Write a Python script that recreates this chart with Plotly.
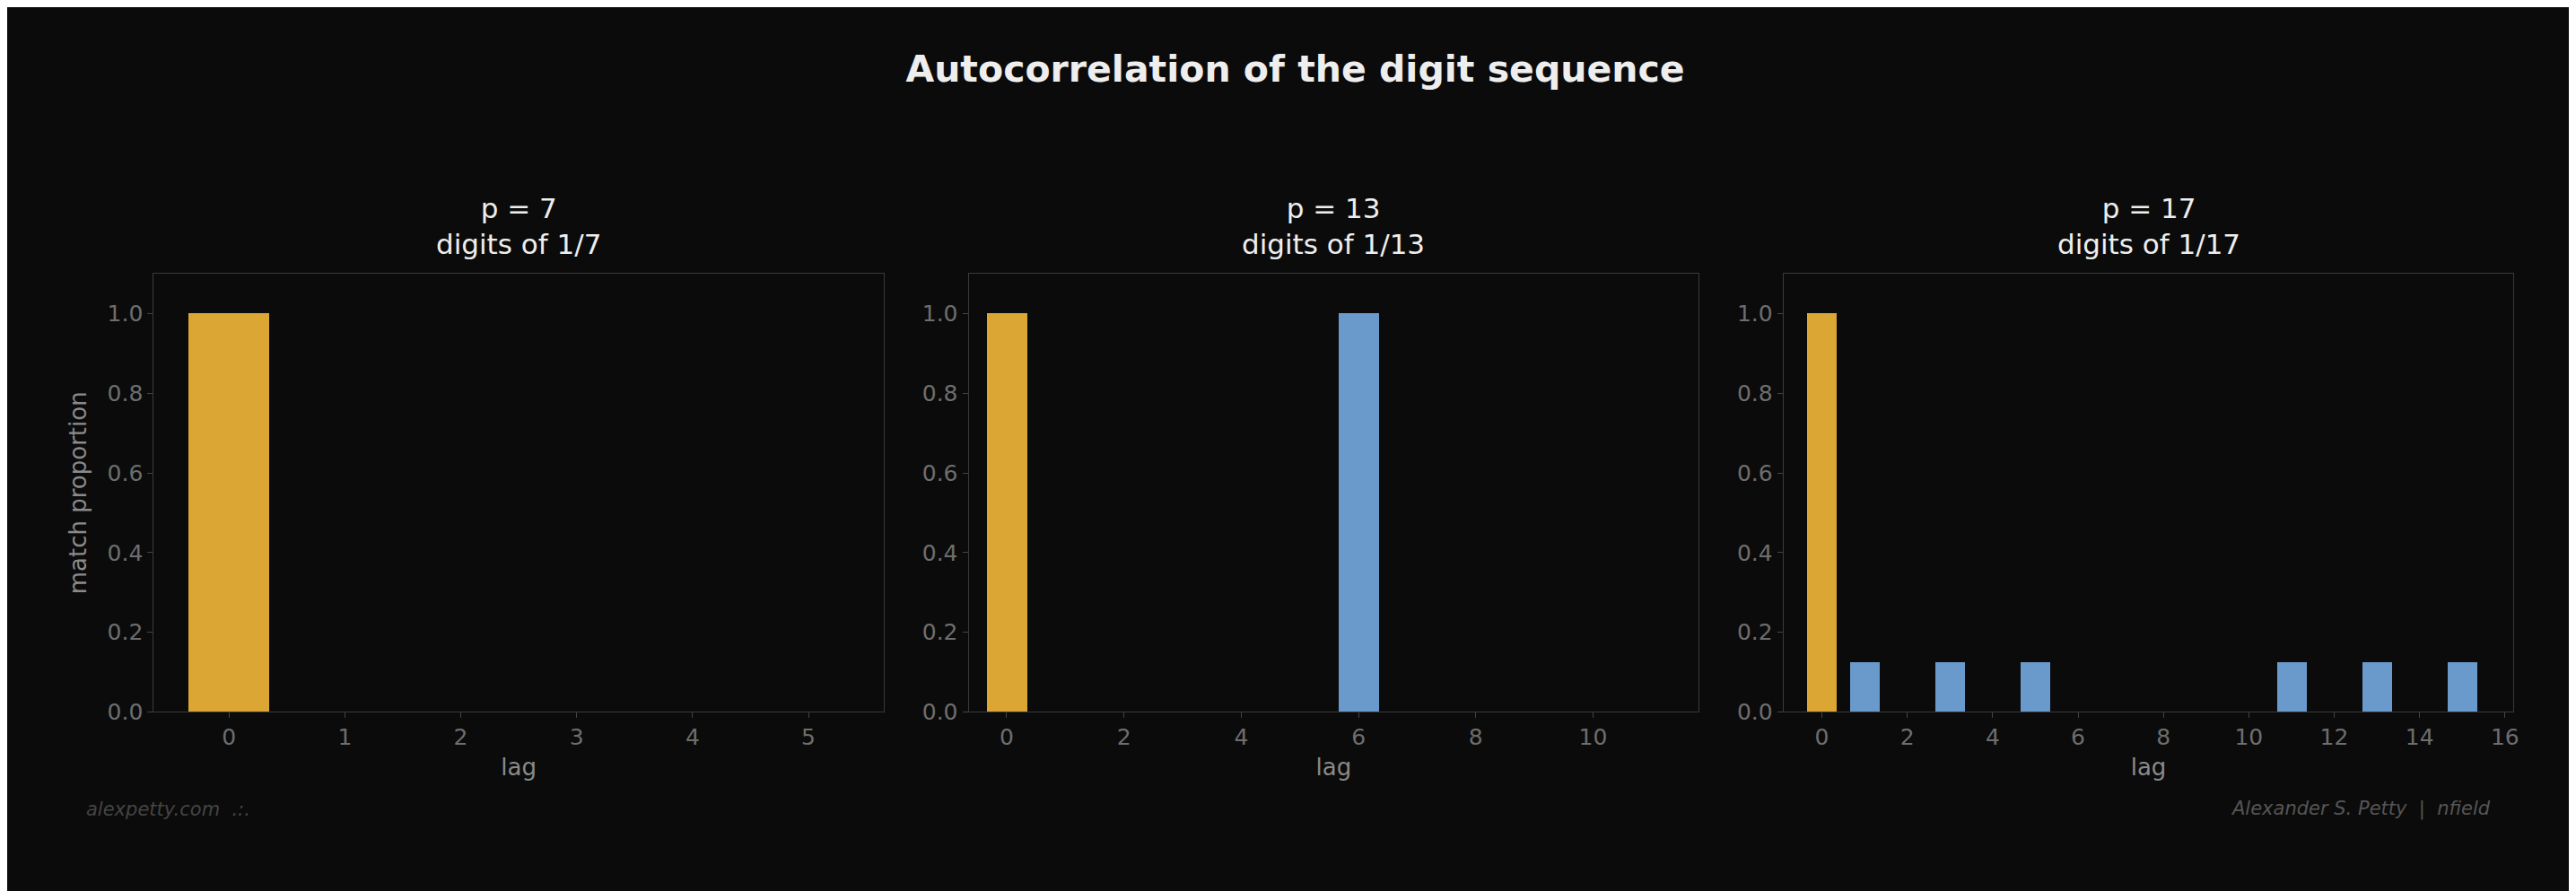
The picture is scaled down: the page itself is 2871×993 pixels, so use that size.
import plotly.graph_objects as go
from plotly.subplots import make_subplots

primes = [7, 13, 17]
lags_7 = [0, 1, 2, 3, 4, 5]
vals_7 = [1, 0, 0, 0, 0, 0]
lags_13 = list(range(12))
vals_13 = [1, 0, 0, 0, 0, 0, 1, 0, 0, 0, 0, 0]
lags_17 = list(range(16))
vals_17 = [1, 0.125, 0, 0.125, 0, 0.125, 0, 0, 0, 0, 0, 0.125, 0, 0.125, 0, 0.125]

GOLD = "#dca634"
BLUE = "#6a99cc"
BG = "#0b0b0b"
TICK = "#6e6e6e"

fig = make_subplots(rows=1, cols=3, horizontal_spacing=0.033)
series = [(lags_7, vals_7), (lags_13, vals_13), (lags_17, vals_17)]
xranges = [[-0.65, 5.65], [-0.65, 11.8], [-0.9, 16.2]]
dticks = [1, 2, 2]
for i, (lags, vals) in enumerate(series):
    colors = [GOLD if l == 0 else BLUE for l in lags]
    fig.add_trace(go.Bar(x=lags, y=vals, width=0.7, marker=dict(color=colors, line_width=0),
                         showlegend=False), row=1, col=i + 1)
    fig.update_xaxes(range=xranges[i], dtick=dticks[i], row=1, col=i + 1)

doms = [[0.057, 0.341], [0.374, 0.658], [0.691, 0.975]]
for i in range(3):
    fig.update_xaxes(domain=doms[i], row=1, col=i + 1)
fig.update_xaxes(showgrid=False, zeroline=False, showline=True, mirror=True, linecolor="#3a3a3a",
                 ticks="outside", tickcolor="#444444", ticklen=6,
                 tickfont=dict(size=25, color=TICK),
                 title=dict(text="lag", font=dict(size=26, color="#8a8a8a"), standoff=10))
fig.update_yaxes(domain=[0.197, 0.696], range=[0, 1.1], dtick=0.2, tickformat=".1f",
                 showgrid=False, zeroline=False, showline=True, mirror=True, linecolor="#3a3a3a",
                 ticks="outside", tickcolor="#444444", ticklen=6,
                 tickfont=dict(size=25, color=TICK))
fig.update_yaxes(title=dict(text="match proportion", font=dict(size=26, color="#8a8a8a")), row=1, col=1)

for i, p in enumerate(primes):
    cx = (doms[i][0] + doms[i][1]) / 2
    fig.add_annotation(text=f"p = {p}<br>digits of 1/{p}", x=cx, y=0.71, xref="paper", yref="paper",
                       xanchor="center", yanchor="bottom", showarrow=False,
                       font=dict(size=31, color="#eeeeee"))

fig.add_annotation(text="<i>alexpetty.com  .:.</i>", x=0.03, y=0.072, xref="paper", yref="paper",
                   xanchor="left", showarrow=False, font=dict(size=21, color="#444444", family="DejaVu Sans"))
fig.add_annotation(text="<i>Alexander S. Petty  |  nfield</i>", x=0.967, y=0.072, xref="paper", yref="paper",
                   xanchor="right", showarrow=False, font=dict(size=21, color="#555555", family="DejaVu Sans"))
fig.update_layout(
    title=dict(text="<b>Autocorrelation of the digit sequence</b>", x=0.5, y=0.945, xanchor="center",
               font=dict(size=41, color="#eeeeee")),
    width=2871, height=993, paper_bgcolor=BG, plot_bgcolor=BG,
    margin=dict(l=0, r=0, t=0, b=0), bargap=0,
    font=dict(family="DejaVu Sans"),
)
fig.write_html("out.html")
